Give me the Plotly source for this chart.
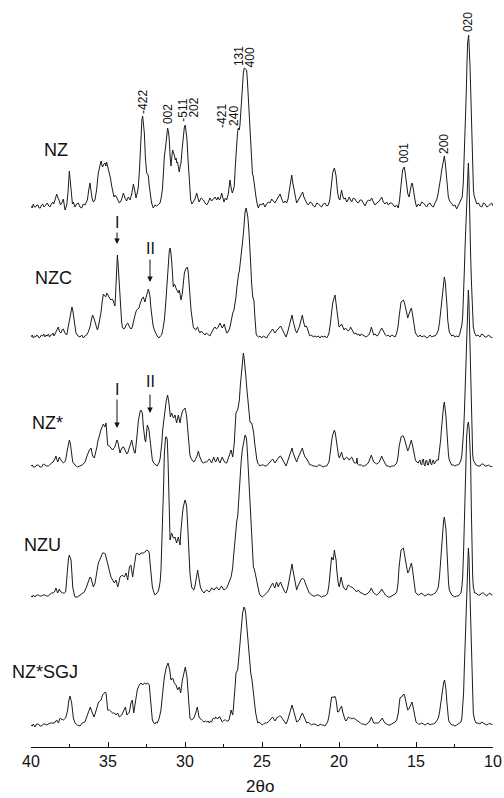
import plotly.graph_objects as go

# ---- XRD patterns: (2theta in degrees, relative intensity above baseline) ----
NZ = [(40.0,2),(39.92,0),(39.85,4),(39.78,1),(39.70,1),(39.62,3),(39.55,3),(39.47,0),(39.39,0),(39.32,3),(39.24,4),(39.16,1),(39.09,2),(39.01,4),(38.94,5),(38.85,2),(38.77,1),(38.68,4),(38.59,6),(38.52,4),(38.46,8),(38.33,14),(38.25,10),(38.18,8),(38.09,3),(38.0,5),(37.90,9),(37.79,-2),(37.68,3),(37.60,15),(37.51,37),(37.44,25),(37.38,15),(37.31,4),(37.25,6),(37.14,1),(37.04,4),(36.93,5),(36.82,1),(36.71,0),(36.60,4),(36.49,3),(36.40,6),(36.34,8),(36.25,18),(36.17,25),(36.10,17),(36.04,10),(35.95,6),(35.85,8),(35.74,18),(35.63,35),(35.54,41),(35.45,47),(35.40,43),(35.35,41),(35.27,44),(35.19,45),(35.14,42),(35.09,46),(35.0,40),(34.91,35),(34.84,30),(34.76,22),(34.68,15),(34.61,11),(34.52,13),(34.44,10),(34.35,8),(34.26,5),(34.13,8),(34.0,15),(33.90,10),(33.79,7),(33.68,11),(33.57,8),(33.46,14),(33.35,24),(33.26,17),(33.18,10),(33.10,15),(33.03,21),(32.95,40),(32.88,68),(32.80,88),(32.75,92),(32.70,86),(32.64,75),(32.57,50),(32.49,35),(32.43,34),(32.38,32),(32.32,22),(32.27,15),(32.17,5),(32.06,0),(31.95,3),(31.84,2),(31.73,4),(31.62,5),(31.55,10),(31.47,18),(31.40,35),(31.34,52),(31.26,61),(31.18,75),(31.13,80),(31.07,76),(31.02,68),(30.96,50),(30.91,42),(30.85,52),(30.80,58),(30.74,55),(30.69,53),(30.63,48),(30.58,50),(30.53,45),(30.48,46),(30.42,40),(30.37,36),(30.31,42),(30.26,45),(30.18,60),(30.11,75),(30.04,81),(29.98,83),(29.92,76),(29.87,68),(29.81,50),(29.76,35),(29.70,18),(29.63,8),(29.55,4),(29.46,6),(29.35,9),(29.24,15),(29.17,9),(29.09,6),(28.95,10),(28.81,8),(28.70,5),(28.59,3),(28.48,6),(28.38,10),(28.27,7),(28.16,9),(28.05,11),(27.94,8),(27.85,11),(27.77,8),(27.69,10),(27.62,15),(27.55,9),(27.47,6),(27.38,10),(27.29,8),(27.18,15),(27.08,28),(27.0,20),(26.93,15),(26.86,18),(26.80,22),(26.72,45),(26.65,68),(26.59,75),(26.54,80),(26.48,78),(26.43,83),(26.35,105),(26.28,125),(26.21,135),(26.15,140),(26.07,139),(26.0,138),(25.95,128),(25.89,111),(25.83,92),(25.78,75),(25.72,52),(25.67,35),(25.62,34),(25.57,32),(25.48,20),(25.39,11),(25.31,4),(25.24,0),(25.13,4),(25.02,3),(24.92,5),(24.81,1),(24.70,4),(24.59,6),(24.48,5),(24.37,9),(24.27,7),(24.16,5),(24.05,8),(23.94,11),(23.83,14),(23.72,9),(23.61,5),(23.50,7),(23.40,5),(23.31,9),(23.23,18),(23.15,27),(23.07,33),(23.0,25),(22.92,18),(22.84,9),(22.75,5),(22.64,8),(22.53,11),(22.45,13),(22.36,16),(22.28,11),(22.21,8),(22.10,5),(21.99,3),(21.88,6),(21.77,5),(21.66,2),(21.56,1),(21.45,5),(21.34,4),(21.24,2),(21.13,1),(21.02,4),(20.91,5),(20.80,2),(20.69,3),(20.60,8),(20.52,21),(20.46,30),(20.41,35),(20.35,38),(20.30,40),(20.24,36),(20.19,32),(20.13,22),(20.09,15),(20.0,9),(19.94,8),(19.88,14),(19.83,18),(19.76,12),(19.68,9),(19.59,10),(19.50,6),(19.42,8),(19.33,11),(19.25,8),(19.18,6),(19.07,10),(18.96,9),(18.85,6),(18.74,5),(18.64,8),(18.53,8),(18.42,5),(18.31,2),(18.20,6),(18.10,8),(17.99,7),(17.88,10),(17.77,6),(17.66,3),(17.55,5),(17.45,6),(17.34,8),(17.23,11),(17.12,6),(17.01,4),(16.90,6),(16.80,3),(16.69,5),(16.58,5),(16.47,3),(16.36,1),(16.26,3),(16.15,0),(16.07,8),(16.0,21),(15.93,32),(15.87,38),(15.80,40),(15.76,41),(15.70,35),(15.65,28),(15.61,21),(15.53,14),(15.45,11),(15.40,16),(15.35,20),(15.29,24),(15.24,25),(15.17,18),(15.11,11),(15.03,5),(14.96,1),(14.85,4),(14.74,2),(14.63,6),(14.52,5),(14.42,3),(14.31,1),(14.20,4),(14.09,5),(13.98,2),(13.87,1),(13.77,5),(13.66,8),(13.57,14),(13.48,21),(13.40,30),(13.33,38),(13.24,46),(13.16,52),(13.09,44),(13.01,32),(12.95,20),(12.90,11),(12.82,7),(12.75,5),(12.66,4),(12.58,2),(12.47,3),(12.36,-1),(12.26,2),(12.15,5),(12.07,8),(12.0,11),(11.93,25),(11.86,52),(11.80,80),(11.75,108),(11.70,138),(11.65,165),(11.58,173),(11.53,160),(11.49,141),(11.43,108),(11.38,75),(11.33,45),(11.27,18),(11.22,12),(11.16,8),(11.05,4),(10.95,5),(10.84,2),(10.73,1),(10.62,5),(10.51,4),(10.40,1),(10.30,2),(10.20,4),(10.09,5),(10.0,2)]

NZC = [(40.0,0),(39.92,2),(39.85,-1),(39.77,1),(39.70,0),(39.62,2),(39.55,1),(39.47,-1),(39.40,0),(39.32,2),(39.25,1),(39.17,3),(39.10,0),(39.02,2),(38.95,1),(38.87,3),(38.80,0),(38.72,2),(38.65,2),(38.57,4),(38.50,1),(38.43,3),(38.38,5),(38.30,7),(38.23,10),(38.14,5),(38.05,4),(37.98,7),(37.90,8),(37.80,4),(37.68,2),(37.62,7),(37.55,13),(37.47,20),(37.40,27),(37.34,30),(37.28,26),(37.21,19),(37.14,10),(37.08,4),(36.95,1),(36.82,0),(36.70,2),(36.60,-1),(36.50,1),(36.39,2),(36.28,5),(36.17,10),(36.08,17),(36.0,22),(35.92,19),(35.84,15),(35.76,10),(35.69,7),(35.63,10),(35.58,14),(35.52,20),(35.45,25),(35.38,35),(35.30,43),(35.22,41),(35.15,40),(35.08,44),(35.02,42),(34.98,42),(34.90,39),(34.81,37),(34.73,38),(34.65,36),(34.60,34),(34.55,31),(34.51,42),(34.48,57),(34.44,72),(34.39,82),(34.34,72),(34.29,57),(34.24,40),(34.18,27),(34.12,16),(34.07,10),(33.98,8),(33.90,9),(33.80,13),(33.72,14),(33.64,11),(33.57,9),(33.50,8),(33.42,10),(33.35,15),(33.29,20),(33.21,24),(33.14,27),(33.06,28),(32.99,29),(32.92,33),(32.86,37),(32.78,39),(32.71,40),(32.65,38),(32.60,35),(32.54,39),(32.49,42),(32.43,46),(32.38,48),(32.33,45),(32.27,40),(32.22,30),(32.16,20),(32.08,12),(31.99,7),(31.92,4),(31.84,2),(31.76,0),(31.69,-1),(31.60,1),(31.52,2),(31.43,8),(31.34,17),(31.26,32),(31.19,50),(31.13,65),(31.08,78),(31.02,86),(30.97,89),(30.92,85),(30.87,77),(30.82,62),(30.76,50),(30.70,53),(30.65,52),(30.59,49),(30.54,47),(30.48,45),(30.43,44),(30.37,47),(30.32,42),(30.26,37),(30.22,40),(30.17,44),(30.10,55),(30.04,64),(29.96,68),(29.90,70),(29.85,70),(29.79,65),(29.74,57),(29.68,42),(29.61,27),(29.53,17),(29.46,10),(29.38,8),(29.31,7),(29.25,9),(29.18,10),(29.10,6),(29.03,4),(28.95,6),(28.87,5),(28.78,3),(28.70,2),(28.62,4),(28.53,3),(28.45,2),(28.38,1),(28.29,4),(28.20,7),(28.12,9),(28.05,10),(27.96,8),(27.88,9),(27.80,12),(27.73,14),(27.65,11),(27.58,9),(27.51,11),(27.45,13),(27.37,8),(27.29,4),(27.21,5),(27.14,7),(27.05,12),(26.97,20),(26.90,24),(26.82,27),(26.75,33),(26.69,40),(26.63,50),(26.58,58),(26.52,63),(26.47,66),(26.40,74),(26.34,82),(26.27,94),(26.20,105),(26.15,115),(26.10,125),(26.03,129),(25.98,126),(25.92,120),(25.85,106),(25.78,90),(25.73,72),(25.68,55),(25.64,45),(25.60,40),(25.56,38),(25.52,36),(25.48,24),(25.45,15),(25.38,3),(25.31,1),(25.24,0),(25.13,1),(25.02,-1),(24.91,1),(24.80,0),(24.70,-1),(24.59,2),(24.48,5),(24.40,6),(24.31,8),(24.24,6),(24.16,4),(24.08,6),(24.0,7),(23.90,9),(23.79,11),(23.70,8),(23.61,5),(23.52,2),(23.44,0),(23.35,4),(23.27,9),(23.16,16),(23.05,22),(22.98,16),(22.90,10),(22.83,7),(22.75,4),(22.66,7),(22.58,10),(22.48,16),(22.38,22),(22.30,15),(22.21,10),(22.13,11),(22.06,9),(21.97,4),(21.88,1),(21.78,2),(21.67,0),(21.56,1),(21.45,0),(21.34,1),(21.23,-1),(21.13,1),(21.02,0),(20.91,1),(20.80,-1),(20.72,1),(20.65,4),(20.58,11),(20.52,20),(20.46,28),(20.41,34),(20.34,38),(20.26,42),(20.21,36),(20.15,27),(20.08,18),(20.0,10),(19.91,11),(19.83,13),(19.75,10),(19.67,7),(19.58,9),(19.50,8),(19.41,6),(19.32,7),(19.25,10),(19.18,8),(19.09,5),(19.0,3),(18.90,4),(18.81,2),(18.72,3),(18.64,1),(18.55,3),(18.46,2),(18.36,1),(18.25,0),(18.16,1),(18.07,2),(17.98,5),(17.90,10),(17.82,6),(17.75,2),(17.65,3),(17.55,1),(17.46,2),(17.38,4),(17.30,6),(17.23,9),(17.15,7),(17.08,4),(16.99,2),(16.90,1),(16.80,2),(16.69,0),(16.58,2),(16.47,1),(16.36,0),(16.25,4),(16.17,10),(16.10,20),(16.03,28),(15.97,35),(15.90,36),(15.82,37),(15.75,34),(15.67,30),(15.60,24),(15.54,19),(15.48,21),(15.43,24),(15.36,27),(15.30,29),(15.23,23),(15.17,17),(15.10,9),(15.04,4),(14.95,2),(14.85,0),(14.74,2),(14.63,0),(14.52,1),(14.42,1),(14.31,-1),(14.20,0),(14.09,2),(13.98,0),(13.87,1),(13.76,1),(13.66,3),(13.55,7),(13.47,15),(13.40,27),(13.33,37),(13.27,47),(13.21,55),(13.16,60),(13.10,55),(13.05,47),(12.99,32),(12.94,17),(12.89,9),(12.84,5),(12.76,3),(12.68,1),(12.58,2),(12.47,0),(12.36,1),(12.25,0),(12.16,3),(12.08,7),(12.02,12),(11.97,20),(11.91,40),(11.86,67),(11.81,92),(11.76,115),(11.71,142),(11.66,165),(11.60,174),(11.56,158),(11.53,130),(11.49,105),(11.45,80),(11.40,55),(11.36,30),(11.32,18),(11.28,10),(11.19,4),(11.10,1),(10.97,2),(10.84,0),(10.74,3),(10.63,2),(10.52,0),(10.41,0),(10.30,2),(10.20,1),(10.10,-1),(10.04,0)]

NZ_STAR = [(40.0,0),(39.92,1),(39.85,-1),(39.74,-1),(39.63,1),(39.52,1),(39.42,-1),(39.31,-1),(39.20,2),(39.09,1),(38.98,0),(38.87,0),(38.76,2),(38.66,3),(38.57,4),(38.48,6),(38.38,10),(38.32,7),(38.27,4),(38.21,6),(38.16,9),(38.10,7),(38.05,6),(37.97,4),(37.90,3),(37.82,4),(37.75,6),(37.64,16),(37.57,22),(37.51,26),(37.45,23),(37.40,18),(37.34,10),(37.29,4),(37.14,1),(36.99,-1),(36.82,0),(36.67,1),(36.54,3),(36.46,5),(36.39,9),(36.30,13),(36.21,16),(36.10,18),(36.05,14),(36.0,10),(35.89,8),(35.84,11),(35.78,14),(35.72,19),(35.67,24),(35.60,29),(35.52,33),(35.46,36),(35.41,38),(35.35,40),(35.30,42),(35.24,40),(35.19,39),(35.13,43),(35.08,32),(35.02,21),(34.96,20),(34.91,20),(34.86,19),(34.81,18),(34.75,17),(34.70,16),(34.62,18),(34.55,19),(34.48,23),(34.42,26),(34.36,24),(34.31,21),(34.22,13),(34.16,16),(34.11,18),(34.04,19),(33.98,19),(33.91,17),(33.85,14),(33.78,12),(33.72,13),(33.67,16),(33.61,19),(33.53,23),(33.46,26),(33.40,21),(33.33,14),(33.28,13),(33.23,13),(33.16,22),(33.10,33),(33.03,45),(32.97,53),(32.91,55),(32.86,56),(32.81,55),(32.77,53),(32.71,40),(32.66,29),(32.60,26),(32.55,24),(32.50,33),(32.45,41),(32.39,39),(32.34,36),(32.28,28),(32.23,19),(32.17,11),(32.12,6),(32.03,3),(31.95,2),(31.87,1),(31.80,0),(31.73,2),(31.67,4),(31.61,8),(31.56,14),(31.50,24),(31.45,36),(31.38,46),(31.30,56),(31.22,65),(31.13,71),(31.08,68),(31.04,63),(30.99,55),(30.95,49),(30.91,51),(30.87,53),(30.82,51),(30.76,48),(30.70,49),(30.65,51),(30.60,47),(30.54,43),(30.49,47),(30.43,51),(30.38,47),(30.32,43),(30.27,48),(30.22,53),(30.16,55),(30.11,56),(30.05,57),(30.0,58),(29.94,54),(29.89,49),(29.83,38),(29.78,26),(29.73,17),(29.68,11),(29.62,8),(29.57,6),(29.50,5),(29.42,4),(29.33,6),(29.24,9),(29.18,12),(29.13,15),(29.06,10),(28.98,6),(28.90,4),(28.81,3),(28.70,4),(28.59,4),(28.50,6),(28.42,7),(28.34,5),(28.27,3),(28.20,6),(28.14,9),(28.07,6),(28.01,4),(27.94,6),(27.88,9),(27.80,5),(27.73,3),(27.66,6),(27.58,9),(27.51,6),(27.45,4),(27.37,3),(27.29,3),(27.21,6),(27.14,9),(27.07,13),(27.01,16),(26.95,12),(26.90,9),(26.85,16),(26.80,23),(26.74,40),(26.69,53),(26.63,55),(26.58,56),(26.52,61),(26.47,66),(26.41,80),(26.36,90),(26.30,104),(26.25,110),(26.21,113),(26.16,108),(26.10,100),(26.05,90),(26.0,80),(25.94,68),(25.89,59),(25.83,50),(25.78,44),(25.72,43),(25.67,43),(25.60,38),(25.54,33),(25.47,22),(25.41,13),(25.34,7),(25.28,3),(25.20,1),(25.13,0),(25.02,1),(24.91,1),(24.80,0),(24.70,0),(24.59,2),(24.48,4),(24.40,6),(24.31,7),(24.23,5),(24.16,3),(24.08,5),(24.0,7),(23.90,9),(23.79,10),(23.70,7),(23.61,4),(23.52,2),(23.44,0),(23.35,4),(23.27,8),(23.16,14),(23.05,18),(22.98,13),(22.90,9),(22.83,6),(22.75,4),(22.66,8),(22.58,11),(22.48,15),(22.38,18),(22.30,13),(22.21,9),(22.13,8),(22.06,6),(21.97,3),(21.88,1),(21.78,1),(21.67,0),(21.56,0),(21.45,-1),(21.34,1),(21.23,1),(21.13,0),(21.02,-1),(20.91,0),(20.80,0),(20.72,2),(20.65,4),(20.58,12),(20.52,23),(20.46,27),(20.41,31),(20.34,34),(20.30,36),(20.24,33),(20.19,28),(20.14,20),(20.09,14),(20.03,10),(19.98,8),(19.91,11),(19.83,14),(19.76,9),(19.67,6),(19.58,8),(19.50,9),(19.41,7),(19.32,6),(19.25,8),(19.18,9),(19.09,6),(19.0,3),(18.93,3),(18.87,3),(18.83,8),(18.80,2),(18.72,1),(18.64,1),(18.55,1),(18.46,0),(18.36,0),(18.25,1),(18.16,2),(18.07,4),(17.98,7),(17.90,11),(17.82,7),(17.75,4),(17.65,3),(17.55,2),(17.46,3),(17.38,4),(17.30,7),(17.23,10),(17.15,7),(17.08,4),(16.99,2),(16.90,0),(16.80,0),(16.69,-1),(16.58,0),(16.47,0),(16.36,1),(16.25,3),(16.17,9),(16.10,19),(16.03,25),(15.97,29),(15.90,30),(15.82,30),(15.75,27),(15.67,23),(15.60,19),(15.54,15),(15.48,17),(15.43,19),(15.36,23),(15.30,26),(15.23,21),(15.17,16),(15.10,10),(15.04,6),(14.95,4),(14.85,3),(14.80,5),(14.74,6),(14.69,2),(14.63,1),(14.58,6),(14.52,7),(14.47,1),(14.42,0),(14.36,5),(14.31,6),(14.25,1),(14.20,1),(14.14,5),(14.09,7),(14.03,2),(13.98,1),(13.93,5),(13.87,6),(13.81,2),(13.76,3),(13.66,6),(13.55,6),(13.47,15),(13.40,26),(13.33,40),(13.27,53),(13.21,60),(13.16,64),(13.10,57),(13.05,49),(12.99,34),(12.94,19),(12.89,11),(12.84,6),(12.76,3),(12.68,1),(12.58,1),(12.47,0),(12.36,1),(12.25,1),(12.16,3),(12.08,6),(12.02,11),(11.97,19),(11.91,35),(11.86,53),(11.81,75),(11.76,100),(11.71,130),(11.66,160),(11.60,176),(11.56,163),(11.53,140),(11.49,112),(11.45,85),(11.40,57),(11.36,19),(11.32,12),(11.28,6),(11.19,3),(11.10,1),(10.97,0),(10.84,0),(10.74,2),(10.63,2),(10.52,0),(10.41,0),(10.30,1),(10.20,0),(10.10,-1),(10.04,0)]

NZU = [(40.0,0),(39.92,-1),(39.85,1),(39.74,-1),(39.63,1),(39.52,1),(39.42,0),(39.31,0),(39.20,1),(39.09,1),(38.98,0),(38.87,0),(38.76,2),(38.66,3),(38.57,3),(38.48,4),(38.38,8),(38.32,5),(38.27,3),(38.21,5),(38.16,7),(38.10,5),(38.05,4),(37.97,3),(37.90,3),(37.82,3),(37.75,4),(37.70,15),(37.64,29),(37.57,37),(37.51,41),(37.45,39),(37.40,36),(37.34,22),(37.29,9),(37.20,2),(37.14,-1),(36.99,-1),(36.82,1),(36.67,3),(36.54,4),(36.42,8),(36.32,13),(36.24,16),(36.17,19),(36.10,18),(36.06,16),(35.95,9),(35.84,13),(35.74,23),(35.63,33),(35.54,36),(35.45,39),(35.35,43),(35.24,43),(35.18,42),(35.13,39),(35.02,33),(34.91,26),(34.81,19),(34.70,16),(34.59,13),(34.48,16),(34.37,9),(34.30,13),(34.22,19),(34.07,21),(33.94,19),(33.83,23),(33.72,16),(33.61,29),(33.51,31),(33.40,19),(33.33,28),(33.25,39),(33.18,42),(33.10,43),(32.97,41),(32.86,43),(32.71,43),(32.60,44),(32.49,46),(32.38,45),(32.32,43),(32.28,35),(32.23,26),(32.17,16),(32.12,9),(32.03,4),(31.95,1),(31.87,2),(31.80,3),(31.73,5),(31.67,9),(31.61,15),(31.56,26),(31.50,50),(31.45,76),(31.39,110),(31.34,143),(31.30,152),(31.26,159),(31.20,159),(31.15,156),(31.10,135),(31.06,109),(31.01,80),(30.97,56),(30.92,60),(30.87,63),(30.82,61),(30.76,58),(30.70,58),(30.65,59),(30.60,56),(30.54,53),(30.49,56),(30.43,59),(30.38,55),(30.32,51),(30.27,64),(30.22,76),(30.16,83),(30.11,89),(30.05,93),(30.0,96),(29.94,93),(29.89,89),(29.83,72),(29.78,53),(29.73,38),(29.68,23),(29.62,15),(29.57,9),(29.50,7),(29.42,6),(29.35,10),(29.29,16),(29.24,21),(29.18,26),(29.12,20),(29.07,13),(29.00,9),(28.92,6),(28.85,4),(28.77,3),(28.68,5),(28.59,6),(28.50,5),(28.42,4),(28.34,6),(28.27,8),(28.18,7),(28.10,6),(28.02,8),(27.94,9),(27.86,7),(27.79,6),(27.70,8),(27.62,10),(27.55,8),(27.47,6),(27.38,7),(27.29,8),(27.21,11),(27.14,14),(27.07,17),(27.01,19),(26.95,24),(26.90,29),(26.85,39),(26.80,49),(26.74,62),(26.69,73),(26.63,76),(26.58,79),(26.52,95),(26.47,109),(26.41,121),(26.36,133),(26.28,146),(26.21,154),(26.15,159),(26.10,161),(26.05,160),(26.0,156),(25.94,142),(25.89,126),(25.83,106),(25.78,86),(25.72,66),(25.67,49),(25.61,37),(25.56,29),(25.50,27),(25.45,24),(25.40,20),(25.35,16),(25.29,11),(25.24,6),(25.18,3),(25.13,1),(25.05,0),(24.98,-1),(24.91,0),(24.81,2),(24.70,3),(24.59,5),(24.48,8),(24.40,11),(24.31,13),(24.23,10),(24.16,8),(24.10,12),(24.05,14),(23.99,11),(23.94,9),(23.87,12),(23.79,14),(23.70,10),(23.61,6),(23.52,4),(23.44,3),(23.35,7),(23.27,13),(23.16,24),(23.05,32),(22.98,25),(22.90,19),(22.83,12),(22.75,6),(22.66,10),(22.58,13),(22.48,16),(22.38,18),(22.32,17),(22.25,16),(22.17,12),(22.10,9),(22.01,6),(21.93,3),(21.85,2),(21.78,1),(21.67,0),(21.56,0),(21.45,1),(21.34,1),(21.23,0),(21.13,-1),(21.02,0),(20.91,0),(20.82,1),(20.74,3),(20.66,10),(20.58,23),(20.53,32),(20.48,39),(20.42,37),(20.37,36),(20.33,42),(20.30,46),(20.25,41),(20.19,36),(20.14,25),(20.09,16),(20.04,12),(19.98,9),(19.93,14),(19.86,19),(19.80,14),(19.72,9),(19.63,7),(19.54,6),(19.46,9),(19.39,11),(19.31,10),(19.24,9),(19.16,9),(19.07,8),(18.96,6),(18.85,4),(18.76,6),(18.68,5),(18.60,3),(18.53,3),(18.42,2),(18.31,1),(18.20,2),(18.10,3),(18.00,5),(17.90,8),(17.82,5),(17.75,3),(17.65,2),(17.55,1),(17.46,2),(17.38,3),(17.29,5),(17.23,7),(17.15,5),(17.08,3),(16.99,1),(16.90,0),(16.80,-1),(16.69,-1),(16.58,0),(16.47,1),(16.36,2),(16.25,4),(16.17,12),(16.10,29),(16.03,40),(15.97,46),(15.90,47),(15.82,48),(15.75,42),(15.67,33),(15.60,27),(15.54,23),(15.48,24),(15.43,26),(15.36,30),(15.30,33),(15.23,27),(15.17,19),(15.10,11),(15.04,4),(14.95,2),(14.85,1),(14.74,2),(14.63,3),(14.52,1),(14.42,0),(14.31,1),(14.20,2),(14.09,1),(13.98,1),(13.87,2),(13.76,3),(13.66,5),(13.55,9),(13.47,20),(13.40,36),(13.33,52),(13.27,66),(13.21,75),(13.16,79),(13.10,72),(13.05,66),(12.99,46),(12.94,26),(12.89,14),(12.84,6),(12.76,3),(12.68,1),(12.58,0),(12.47,-1),(12.36,0),(12.25,0),(12.16,2),(12.08,3),(12.02,9),(11.97,19),(11.91,45),(11.86,76),(11.81,110),(11.76,143),(11.71,160),(11.66,170),(11.60,174),(11.55,168),(11.50,155),(11.45,133),(11.41,90),(11.36,36),(11.32,20),(11.28,9),(11.19,3),(11.10,3),(10.97,1),(10.84,1),(10.74,3),(10.63,3),(10.52,1),(10.41,0),(10.30,2),(10.20,3),(10.10,1),(10.04,1)]

NZ_STAR_SGJ = [(40.0,0),(39.92,-1),(39.85,1),(39.74,-2),(39.63,1),(39.52,1),(39.42,-1),(39.31,-1),(39.20,1),(39.09,1),(38.98,0),(38.87,1),(38.76,2),(38.66,2),(38.57,2),(38.48,2),(38.38,4),(38.33,5),(38.27,3),(38.21,2),(38.16,5),(38.10,7),(38.05,6),(37.97,5),(37.90,5),(37.82,6),(37.75,7),(37.68,11),(37.62,15),(37.55,24),(37.47,29),(37.42,26),(37.36,22),(37.30,14),(37.25,7),(37.14,2),(36.99,0),(36.82,-1),(36.67,2),(36.50,3),(36.42,6),(36.32,10),(36.22,15),(36.15,18),(36.09,15),(36.02,12),(35.91,8),(35.84,11),(35.78,15),(35.71,19),(35.63,22),(35.54,24),(35.45,25),(35.35,30),(35.24,32),(35.18,33),(35.13,32),(35.08,25),(35.02,15),(34.91,15),(34.81,13),(34.70,12),(34.59,12),(34.48,10),(34.37,12),(34.26,8),(34.11,10),(33.98,15),(33.87,18),(33.77,10),(33.70,11),(33.61,13),(33.51,22),(33.42,25),(33.33,12),(33.20,25),(33.10,35),(32.97,40),(32.86,42),(32.75,40),(32.64,42),(32.53,41),(32.42,42),(32.32,40),(32.27,31),(32.23,22),(32.12,5),(32.03,2),(31.95,1),(31.87,3),(31.80,2),(31.67,7),(31.56,15),(31.45,32),(31.34,48),(31.21,58),(31.10,62),(30.99,55),(30.91,45),(30.80,47),(30.69,42),(30.58,40),(30.48,35),(30.37,38),(30.28,32),(30.17,45),(30.06,55),(29.98,58),(29.87,48),(29.78,25),(29.68,7),(29.57,5),(29.42,7),(29.31,12),(29.20,18),(29.09,8),(29.00,6),(28.92,5),(28.85,4),(28.77,3),(28.68,4),(28.59,3),(28.50,4),(28.42,2),(28.34,4),(28.27,3),(28.20,6),(28.14,7),(28.07,6),(28.01,8),(27.94,7),(27.88,6),(27.80,8),(27.73,8),(27.65,5),(27.58,3),(27.51,4),(27.45,5),(27.37,5),(27.29,4),(27.21,4),(27.14,5),(27.07,10),(27.01,15),(26.95,12),(26.90,10),(26.85,18),(26.80,25),(26.74,40),(26.69,52),(26.63,54),(26.58,55),(26.52,65),(26.47,75),(26.41,85),(26.36,95),(26.30,105),(26.26,112),(26.17,118),(26.11,116),(26.06,112),(26.0,102),(25.95,92),(25.89,80),(25.84,68),(25.78,60),(25.73,52),(25.65,45),(25.60,36),(25.54,28),(25.47,20),(25.41,12),(25.34,6),(25.28,2),(25.20,3),(25.13,2),(25.05,0),(24.98,0),(24.91,1),(24.80,2),(24.70,2),(24.59,3),(24.48,5),(24.40,6),(24.31,8),(24.23,6),(24.16,4),(24.08,6),(24.0,8),(23.94,8),(23.87,9),(23.79,9),(23.70,7),(23.61,5),(23.52,3),(23.44,1),(23.35,4),(23.27,8),(23.16,14),(23.05,20),(22.98,16),(22.90,12),(22.83,7),(22.75,3),(22.66,4),(22.58,5),(22.48,9),(22.38,12),(22.32,10),(22.25,7),(22.17,4),(22.10,2),(22.01,3),(21.93,2),(21.85,1),(21.78,0),(21.67,1),(21.56,1),(21.45,0),(21.34,-1),(21.23,1),(21.13,0),(21.02,0),(20.91,-1),(20.82,1),(20.74,3),(20.66,8),(20.58,18),(20.52,24),(20.48,28),(20.41,28),(20.35,27),(20.30,29),(20.24,28),(20.19,25),(20.14,19),(20.09,13),(20.04,13),(19.98,15),(19.90,18),(19.83,19),(19.76,13),(19.67,7),(19.60,5),(19.54,4),(19.46,6),(19.39,8),(19.31,7),(19.24,7),(19.16,6),(19.07,7),(18.96,6),(18.85,5),(18.76,4),(18.68,3),(18.60,2),(18.53,1),(18.42,1),(18.31,0),(18.20,1),(18.10,2),(18.00,4),(17.90,8),(17.82,5),(17.75,2),(17.65,2),(17.55,2),(17.46,2),(17.38,3),(17.29,5),(17.19,7),(17.10,4),(17.01,2),(16.90,1),(16.80,0),(16.69,0),(16.58,1),(16.47,2),(16.36,3),(16.25,5),(16.15,12),(16.08,22),(16.04,27),(15.98,28),(15.93,28),(15.85,30),(15.78,31),(15.72,28),(15.67,25),(15.60,20),(15.54,15),(15.46,16),(15.39,19),(15.32,22),(15.26,23),(15.19,18),(15.13,12),(15.06,6),(15.0,3),(14.92,2),(14.85,1),(14.74,1),(14.63,2),(14.52,1),(14.42,0),(14.31,1),(14.20,2),(14.09,0),(13.98,1),(13.87,1),(13.76,2),(13.66,4),(13.55,7),(13.47,13),(13.40,22),(13.33,30),(13.27,38),(13.20,43),(13.14,45),(13.09,41),(13.05,35),(12.99,22),(12.94,12),(12.89,6),(12.84,3),(12.76,1),(12.68,0),(12.58,0),(12.47,-1),(12.36,0),(12.25,1),(12.16,2),(12.08,3),(12.02,7),(11.97,15),(11.91,32),(11.86,58),(11.81,82),(11.75,108),(11.71,135),(11.68,160),(11.60,177),(11.56,168),(11.53,150),(11.49,128),(11.45,105),(11.41,75),(11.36,42),(11.32,24),(11.28,12),(11.19,5),(11.10,2),(10.97,2),(10.84,1),(10.74,3),(10.63,2),(10.52,1),(10.41,0),(10.30,1),(10.20,2),(10.10,0),(10.04,1)]

SAMPLE_NAMES = ["NZ", "NZC", "NZ*", "NZU", "NZ*SGJ"]
PATTERNS = [NZ, NZC, NZ_STAR, NZU, NZ_STAR_SGJ]

# Miller indices marked on the NZ pattern and their 2theta positions
HKL_LABELS = ["-422", "002", "-511", "202", "-421", "240", "131", "400", "001", "200", "020"]
HKL_2THETA = [32.73, 31.10, 30.15, 29.44, 27.60, 26.82, 26.49, 25.75, 15.78, 13.18, 11.62]

X_TICKS = [40, 35, 30, 25, 20, 15, 10]

# ---------------- layout constants (stacking, pixel-to-unit) ----------------
W, H = 504, 798
M_L, M_R, M_T, M_B = 31, 11, 0, 51
PLOT_H = H - M_T - M_B           # 1 y-unit == 1 px
OFFSETS = [539, 410, 281, 151, 22]
FONT = "Liberation Sans, Arial, Helvetica, sans-serif"
LINE_COLOR = "#1c1c1c"

fig = go.Figure()
for name, pat, off in zip(SAMPLE_NAMES, PATTERNS, OFFSETS):
    fig.add_trace(go.Scatter(
        x=[p[0] for p in pat],
        y=[p[1] + off for p in pat],
        mode="lines", name=name,
        line=dict(color=LINE_COLOR, width=1),
        hoverinfo="skip", showlegend=False))

ann = []
def py2y(py):
    return PLOT_H - py

# hkl labels (rotated, reading upward) above NZ pattern
HKL_PY = [102, 114, 110, 108, 116, 116, 56, 57, 153, 144, 22]
for t, x, py in zip(HKL_LABELS, HKL_2THETA, HKL_PY):
    ann.append(dict(x=x, y=py2y(py), xref="x", yref="y", text=t, textangle=-90,
                    showarrow=False, font=dict(family=FONT, size=12, color="#111"),
                    xanchor="center", yanchor="middle"))

# sample names
NAME_POS = [(42, 150), (33, 278), (30, 423), (22, 545), (10, 672)]
for name, (px, py) in zip(SAMPLE_NAMES, NAME_POS):
    ann.append(dict(x=(px - M_L) / (W - M_L - M_R), y=(PLOT_H - py) / PLOT_H,
                    xref="paper", yref="paper", text=name, showarrow=False,
                    font=dict(family=FONT, size=18, color="#111"),
                    xanchor="left", yanchor="middle"))

# I / II arrows (NZC and NZ*)
def theta_of_px(px):
    return 40 - (px - M_L) * 30 / (W - M_L - M_R)

ARROWS = [  # (label, px_x, text_py, tip_py, tail_py)
    ("I", 117, 222, 244, 231),
    ("II", 150, 248, 282, 258),
    ("I", 117, 389, 428, 398),
    ("II", 150, 381, 413, 393),
]
for lab, px, tpy, tip, tail in ARROWS:
    xx = theta_of_px(px)
    ann.append(dict(x=xx, y=py2y(tip), xref="x", yref="y", text="", showarrow=True,
                    ax=0, ay=tail - tip, arrowhead=2, arrowsize=1.1, arrowwidth=1,
                    arrowcolor="#111"))
    ann.append(dict(x=xx, y=py2y(tpy), xref="x", yref="y", text=lab, showarrow=False,
                    font=dict(family=FONT, size=16, color="#111"),
                    xanchor="center", yanchor="middle"))

# axis title
ann.append(dict(x=(260 - M_L) / (W - M_L - M_R), y=(PLOT_H - 786) / PLOT_H,
                xref="paper", yref="paper", text="2θo", showarrow=False,
                font=dict(family=FONT, size=17, color="#111"),
                xanchor="center", yanchor="middle"))

fig.update_layout(
    width=W, height=H,
    margin=dict(l=M_L, r=M_R, t=M_T, b=M_B, pad=0),
    paper_bgcolor="white", plot_bgcolor="white",
    showlegend=False,
    annotations=ann,
    xaxis=dict(range=[40, 10], tickvals=X_TICKS, ticktext=[str(v) for v in X_TICKS],
               ticks="inside", ticklen=5, tickwidth=1, tickcolor="#111",
               showline=True, linecolor="#111", linewidth=1,
               showgrid=False, zeroline=False,
               tickfont=dict(family=FONT, size=16, color="#111"),
               minor=dict(dtick=2.5, tick0=10, ticks="inside", ticklen=3,
                          tickcolor="#111", showgrid=False)),
    yaxis=dict(range=[0, PLOT_H], visible=False, showgrid=False, zeroline=False),
)

fig.write_html("out.html",
               config={"displayModeBar": False, "staticPlot": True},
               post_script="document.body.style.margin='0px';"
                           "document.body.style.overflow='hidden';")
